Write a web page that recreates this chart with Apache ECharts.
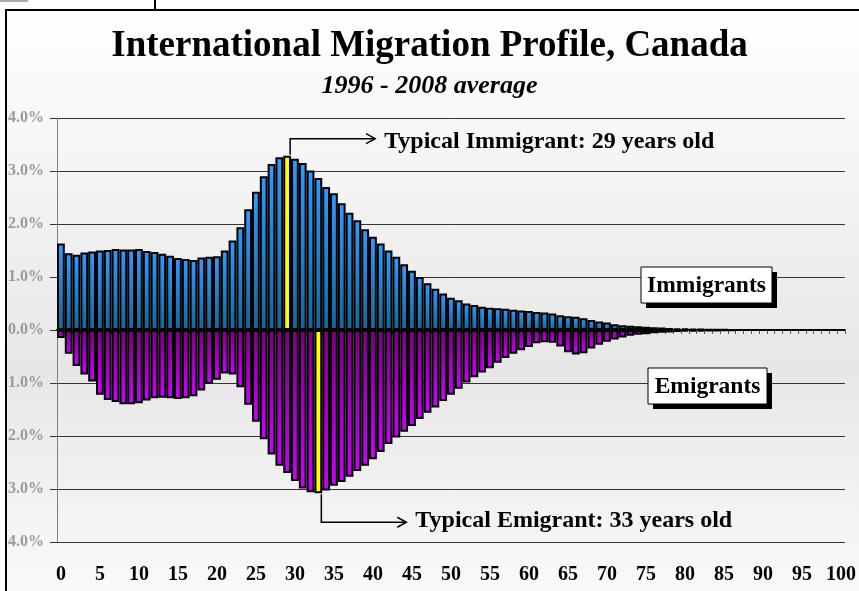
<!DOCTYPE html>
<html>
<head>
<meta charset="utf-8">
<script src="https://cdn.jsdelivr.net/npm/echarts@6/dist/echarts.min.js"></script>
<style>
  html, body { margin: 0; padding: 0; background: #fff; }
  #chart { width: 859px; height: 591px; }
</style>
</head>
<body>
<div id="chart"></div>
<script>
    // ages 0 .. 100
    var ages = [];
    for (var i = 0; i <= 100; i++) ages.push(String(i));

    // share of immigrants by age (%)
    var immigrants = [
        1.63, 1.45, 1.42, 1.46, 1.48, 1.50, 1.51, 1.53, 1.52, 1.52,
        1.53, 1.49, 1.47, 1.44, 1.40, 1.36, 1.34, 1.32, 1.37, 1.38,
        1.39, 1.50, 1.69, 1.94, 2.28, 2.61, 2.90, 3.13, 3.26, 3.29,
        3.23, 3.15, 3.01, 2.87, 2.70, 2.58, 2.39, 2.21, 2.07, 1.90,
        1.76, 1.63, 1.50, 1.38, 1.24, 1.12, 1.00, 0.88, 0.78, 0.69,
        0.61, 0.56, 0.50, 0.47, 0.44, 0.42, 0.41, 0.40, 0.38, 0.37,
        0.36, 0.34, 0.33, 0.31, 0.28, 0.26, 0.25, 0.22, 0.19, 0.16,
        0.14, 0.11, 0.09, 0.08, 0.07, 0.06, 0.05, 0.045, 0.04, 0.03,
        0.025, 0.02, 0.015, 0.01, 0.01, 0.005, 0, 0, 0, 0,
        0, 0, 0, 0, 0, 0, 0, 0, 0, 0,
        0
    ];

    // share of emigrants by age (%), drawn below zero
    var emigrants = [
        0.15, 0.45, 0.68, 0.84, 0.97, 1.22, 1.32, 1.36, 1.40, 1.40,
        1.38, 1.33, 1.29, 1.28, 1.29, 1.30, 1.29, 1.25, 1.14, 1.02,
        0.94, 0.82, 0.84, 1.08, 1.41, 1.73, 2.06, 2.35, 2.56, 2.70,
        2.85, 2.99, 3.06, 3.08, 3.03, 2.94, 2.87, 2.77, 2.66, 2.56,
        2.44, 2.30, 2.15, 2.03, 1.92, 1.81, 1.68, 1.56, 1.46, 1.34,
        1.22, 1.11, 0.99, 0.89, 0.80, 0.72, 0.62, 0.53, 0.45, 0.38,
        0.32, 0.25, 0.23, 0.24, 0.31, 0.42, 0.46, 0.44, 0.35, 0.28,
        0.22, 0.18, 0.14, 0.11, 0.09, 0.08, 0.06, 0.05, 0.045, 0.04,
        0.03, 0.03, 0.025, 0.02, 0.015, 0.01, 0.005, 0, 0, 0,
        0, 0, 0, 0, 0, 0, 0, 0, 0, 0,
        0
    ];

    var typicalImmigrantAge = 29;
    var typicalEmigrantAge = 33;

    var serif = '"Liberation Serif", "Times New Roman", serif';

    var immData = immigrants.map(function (v, i) {
        return i === typicalImmigrantAge ? { value: v, itemStyle: { color: '#ffff00' } } : v;
    });
    var emiData = emigrants.map(function (v, i) {
        return i === typicalEmigrantAge ? { value: -v, itemStyle: { color: '#ffff00' } } : -v;
    });

    var chart = echarts.init(document.getElementById('chart'));
    chart.setOption({
        animation: false,
        title: {
            text: 'International Migration Profile, Canada',
            subtext: '1996 - 2008 average',
            left: 'center',
            top: 28,
            itemGap: 8,
            padding: 0,
            textStyle: { fontFamily: serif, fontWeight: 'bold', fontSize: 37, color: '#000' },
            subtextStyle: { fontFamily: serif, fontWeight: 'bold', fontStyle: 'italic', fontSize: 26, color: '#000' }
        },
        grid: { left: 57, right: 13, top: 118, bottom: 49 },
        xAxis: [{
            type: 'category',
            data: ages,
            position: 'top',
            axisLine: { onZero: true, lineStyle: { color: '#000', width: 2 } },
            axisTick: { show: true, inside: true, length: 4, interval: 0, lineStyle: { color: '#555' } },
            axisLabel: { show: false },
            splitLine: { show: false }
        }, {
            type: 'category',
            data: ages,
            position: 'bottom',
            axisLine: { show: false, onZero: false },
            axisTick: { show: false },
            axisLabel: { interval: 4, margin: 23, fontFamily: serif, fontWeight: 'bold', fontSize: 20, color: '#000' }
        }],
        yAxis: {
            type: 'value',
            min: -4,
            max: 4,
            interval: 1,
            axisLine: { show: true, lineStyle: { color: '#808080', width: 1 } },
            axisTick: { show: true, length: 7, lineStyle: { color: '#333' } },
            splitLine: { lineStyle: { color: '#333', width: 1 } },
            axisLabel: {
                margin: 13,
                fontFamily: serif, fontWeight: 'bold', fontSize: 16, color: '#9a9a9a',
                formatter: function (v) { return Math.abs(v).toFixed(1) + '%'; }
            }
        },
        series: [{
            name: 'Immigrants',
            type: 'bar',
            stack: 'flow',
            xAxisIndex: 0,
            barCategoryGap: '0%',
            data: immData,
            itemStyle: {
                borderColor: '#000',
                borderWidth: 2,
                color: new echarts.graphic.LinearGradient(0, 0, 0, 1, [
                    { offset: 0, color: '#3399ff' },
                    { offset: 1, color: '#12679a' }
                ])
            }
        }, {
            name: 'Emigrants',
            type: 'bar',
            stack: 'flow',
            xAxisIndex: 0,
            barCategoryGap: '0%',
            data: emiData,
            itemStyle: {
                borderColor: '#000',
                borderWidth: 2,
                color: new echarts.graphic.LinearGradient(0, 0, 0, 1, [
                    { offset: 0, color: '#7a0080' },
                    { offset: 1, color: '#cc00ff' }
                ])
            }
        }]
    });

    // annotations and legend boxes placed from the bar positions
    var pImm = chart.convertToPixel({ seriesIndex: 0 }, [typicalImmigrantAge, immigrants[typicalImmigrantAge]]);
    var pEmi = chart.convertToPixel({ seriesIndex: 1 }, [typicalEmigrantAge, -emigrants[typicalEmigrantAge]]);

    function arrowPath(x0, y0, y1, x1) {
        return [
            { type: 'polyline', shape: { points: [[x0, y0], [x0, y1], [x1, y1]] },
              style: { stroke: '#000', lineWidth: 1.5, fill: null }, z: 20 },
            { type: 'polyline', shape: { points: [[x1 - 9, y1 - 5], [x1, y1], [x1 - 9, y1 + 5]] },
              style: { stroke: '#000', lineWidth: 1.5, fill: null }, z: 20 }
        ];
    }

    function labelBox(x, y, w, h, txt) {
        return [
            { type: 'rect', shape: { x: x + 5, y: y + 5, width: w, height: h }, style: { fill: '#000' }, z: 20 },
            { type: 'rect', shape: { x: x, y: y, width: w, height: h }, style: { fill: '#fff', stroke: '#000', lineWidth: 1 }, z: 21 },
            { type: 'text', x: x + w / 2, y: y + h / 2 + 1, z: 22,
              style: { text: txt, font: 'bold 23.5px ' + serif, fill: '#000', align: 'center', verticalAlign: 'middle' } }
        ];
    }

    var g = [
        { type: 'rect', shape: { x: 6, y: 10, width: 900, height: 650 }, z: -10,
          style: {
              fill: new echarts.graphic.LinearGradient(0, 0, 0, 1, [
                  { offset: 0, color: '#ffffff' },
                  { offset: 0.55, color: '#e7e7e7' },
                  { offset: 1, color: '#ffffff' }
              ]),
              stroke: '#000', lineWidth: 2
          } },
        { type: 'line', shape: { x1: 155, y1: 0, x2: 155, y2: 10 }, style: { stroke: '#000', lineWidth: 2 }, z: -9 },
        { type: 'rect', shape: { x: 0, y: 0, width: 28, height: 2 }, style: { fill: '#aaa' }, z: -9 }
    ];
    g = g.concat(arrowPath(pImm[0] + 3, pImm[1] - 1, pImm[1] - 17, pImm[0] + 88));
    g.push({ type: 'text', x: pImm[0] + 97, y: pImm[1] - 14, z: 20,
        style: { text: 'Typical Immigrant: 29 years old', font: 'bold 24px ' + serif, fill: '#000', verticalAlign: 'middle' } });
    g = g.concat(arrowPath(pEmi[0] + 3, pEmi[1] + 1, pEmi[1] + 29, pEmi[0] + 88));
    g.push({ type: 'text', x: pEmi[0] + 97, y: pEmi[1] + 28, z: 20,
        style: { text: 'Typical Emigrant: 33 years old', font: 'bold 24px ' + serif, fill: '#000', verticalAlign: 'middle' } });
    g = g.concat(labelBox(641, 267, 131, 36, 'Immigrants'));
    g = g.concat(labelBox(648, 368, 119, 36, 'Emigrants'));

    chart.setOption({ graphic: g });
</script>
</body>
</html>
